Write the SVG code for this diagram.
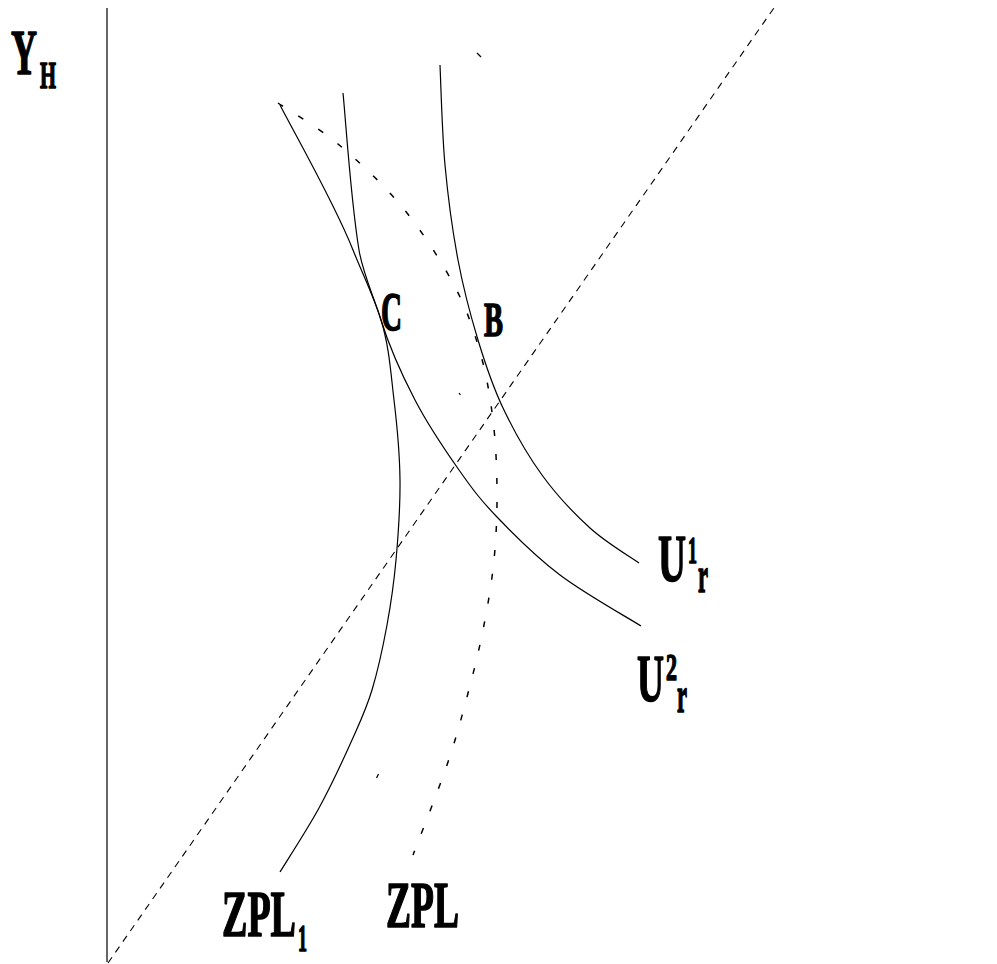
<svg xmlns="http://www.w3.org/2000/svg" width="997" height="964" viewBox="0 0 997 964">
<style>
.ln{fill:none;stroke:#000;stroke-width:1.2}
.dg{fill:none;stroke:#000;stroke-width:1.1;stroke-dasharray:7,6}
.zd{fill:none;stroke:#000;stroke-width:1.5;stroke-dasharray:6,18}
.t{font-family:"Liberation Serif","Times New Roman",serif;font-weight:bold;fill:#000;stroke:#000;stroke-width:1.6;stroke-linejoin:round}
</style>
<rect width="997" height="964" fill="#fff"/>
<g id="axes">
<line class="ln" x1="107" y1="8" x2="107" y2="962"/>
<line class="dg" x1="108" y1="963" x2="776" y2="5"/>
</g>
<g id="curves">
<path id="U1" class="ln" d="M440,65 C440.8,81.7 442,132.5 445,165 C448,197.5 452.5,230.8 458,260 C463.5,289.2 470.5,315.3 478,340 C485.5,364.7 492.3,385.5 503,408 C513.7,430.5 527.5,455 542,475 C556.5,495 573.8,513.3 590,528 C606.2,542.7 630.8,557.2 639,563"/>
<path id="U2" class="ln" d="M343,93 C345.7,119.2 350.5,197.7 359,250 C362.8,273.3 373.8,296.7 381,320 C389.3,346.7 401.1,373.3 415,400 C427.1,423.3 445.3,450.5 459,470 C472.7,489.5 480.2,499.5 497,517 C513.8,534.5 536,556.8 560,575 C584,593.2 627.5,617.5 641,626"/>
<path id="ZPL1" class="ln" d="M280,105 C292.2,129.2 334,202 353,250 C362.3,273.3 373.8,296.7 381,320 C389.3,346.7 390.8,373.3 394,400 C397.2,426.7 399.7,453.3 400,480 C400.3,506.7 398.2,535.8 396,560 C393.8,584.2 391,603.3 387,625 C383,646.7 377.8,670.8 372,690 C366.2,709.2 360.8,720.3 352,740 C343.2,759.7 331,786 319,808 C307,830 286.5,861.3 280,872"/>
<path id="ZPL" class="zd" d="M278,103 C288,109.8 317.2,126.5 338,144 C358.8,161.5 383.7,184.5 403,208 C422.3,231.5 441.2,261 454,285 C466.8,309 473.5,329.5 480,352 C486.5,374.5 490.2,397 493,420 C495.8,443 496.8,466.7 497,490 C497.2,513.3 496.3,536.7 494,560 C491.7,583.3 487.5,607.2 483,630 C478.5,652.8 473,674.5 467,697 C461,719.5 456,738.7 447,765 C438,791.3 418.7,840 413,855"/>
<line class="ln" x1="477" y1="53" x2="481" y2="57"/>
<line class="ln" x1="459" y1="393" x2="460.5" y2="395"/>
<line class="ln" x1="378.5" y1="774" x2="376.5" y2="778"/>
</g>
<g id="labels">
<text class="t" x="11" y="74" font-size="64" textLength="26" lengthAdjust="spacingAndGlyphs">Y</text>
<text class="t" x="40" y="88" font-size="38" textLength="16" lengthAdjust="spacingAndGlyphs">H</text>
<text class="t" x="381" y="330" font-size="55" textLength="21" lengthAdjust="spacingAndGlyphs">C</text>
<text class="t" x="484" y="336" font-size="48" textLength="19" lengthAdjust="spacingAndGlyphs">B</text>
<text class="t" x="658" y="581" font-size="67" textLength="28" lengthAdjust="spacingAndGlyphs">U</text>
<text class="t" x="688" y="563" font-size="38" textLength="9" lengthAdjust="spacingAndGlyphs">1</text>
<text class="t" x="698" y="592" font-size="50" textLength="10" lengthAdjust="spacingAndGlyphs">r</text>
<text class="t" x="637" y="701" font-size="67" textLength="27" lengthAdjust="spacingAndGlyphs">U</text>
<text class="t" x="666" y="680" font-size="38" textLength="11" lengthAdjust="spacingAndGlyphs">2</text>
<text class="t" x="677" y="712" font-size="50" textLength="10" lengthAdjust="spacingAndGlyphs">r</text>
<text class="t" x="222" y="936" font-size="65" textLength="74" lengthAdjust="spacingAndGlyphs">ZPL</text>
<text class="t" x="298" y="951" font-size="37" textLength="9" lengthAdjust="spacingAndGlyphs">1</text>
<text class="t" x="386" y="927" font-size="65" textLength="73" lengthAdjust="spacingAndGlyphs">ZPL</text>
</g>
</svg>
